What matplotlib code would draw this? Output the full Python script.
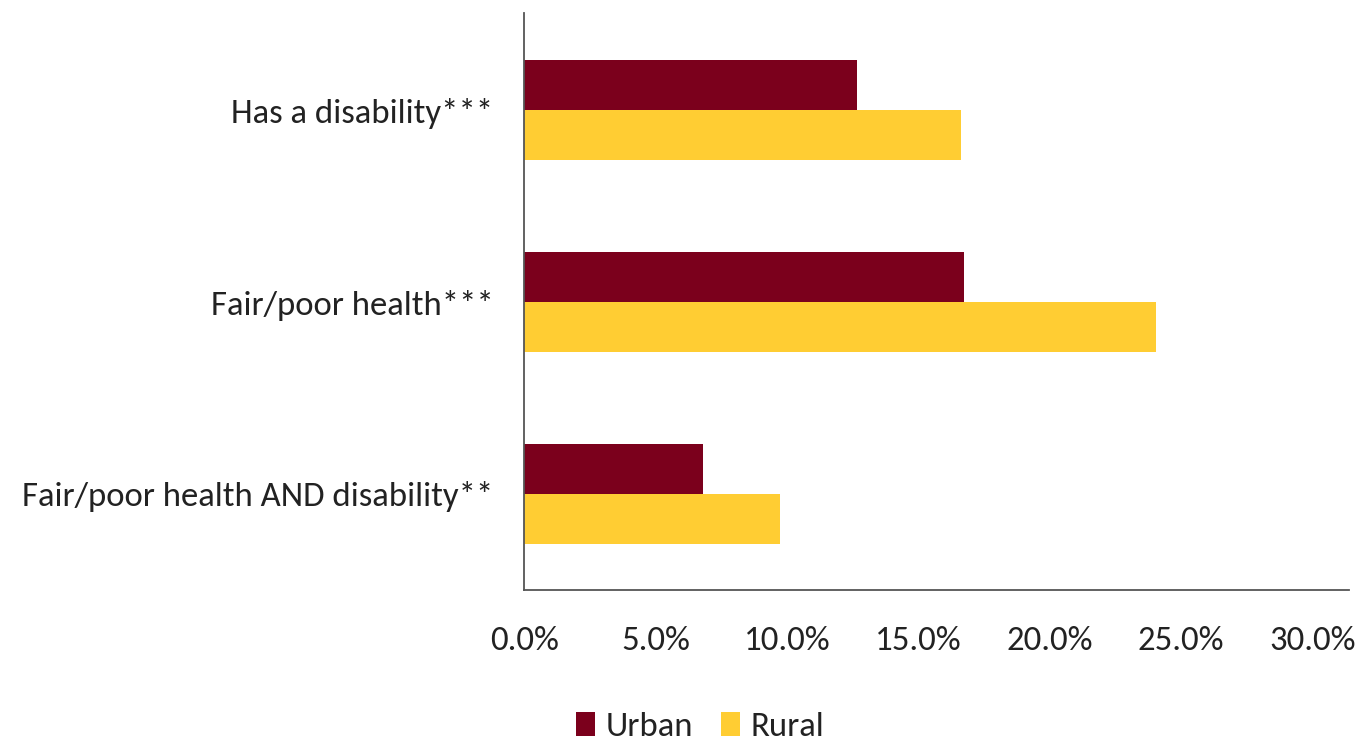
import matplotlib.pyplot as plt
import numpy as np
from matplotlib.ticker import PercentFormatter
from matplotlib.transforms import ScaledTranslation

plt.rcParams['font.family'] = ['Carlito', 'DejaVu Sans']

categories = ["Has a disability***", "Fair/poor health***", "Fair/poor health AND disability**"]
urban = [12.1, 16.0, 6.5]
rural = [15.9, 23.0, 9.3]
x_ticks = [0, 5, 10, 15, 20, 25, 30]

urban_color = "#7B001C"
rural_color = "#FFCD33"

fig = plt.figure(figsize=(13.72, 7.4), dpi=100)
ax = fig.add_axes([0.382, 0.203, 0.601, 0.779])

y = np.arange(len(categories))
h = 0.26
ax.barh(y - h / 2, urban, height=h, color=urban_color, label="Urban")
ax.barh(y + h / 2, rural, height=h, color=rural_color, label="Rural")

ax.set_ylim(2.5, -0.505)
ax.set_xlim(0, 30)
ax.set_yticks(y)
ax.set_yticklabels(categories, fontsize=25, color="#222222")
ax.set_xticks(x_ticks)
ax.xaxis.set_major_formatter(PercentFormatter(decimals=1))
ax.tick_params(axis="x", labelsize=25, colors="#222222", length=0, pad=26)
ax.tick_params(axis="y", length=0, pad=22)

# the x labels drift a little to the left, as in the original
for k, lab in enumerate(ax.get_xticklabels()):
    lab.set_transform(lab.get_transform() + ScaledTranslation(-0.06 * k, 0, fig.dpi_scale_trans))

for s in ["top", "right"]:
    ax.spines[s].set_visible(False)
for s in ["left", "bottom"]:
    ax.spines[s].set_color("#555555")
    ax.spines[s].set_linewidth(1.3)

fig.legend(loc="center", bbox_to_anchor=(700 / 1372, 1 - 727 / 740), ncol=2,
           frameon=False, fontsize=25, handlelength=0.55, handleheight=0.7,
           handletextpad=0.3, columnspacing=0.8, labelcolor="#222222")

fig.savefig("out.png", dpi=100)
